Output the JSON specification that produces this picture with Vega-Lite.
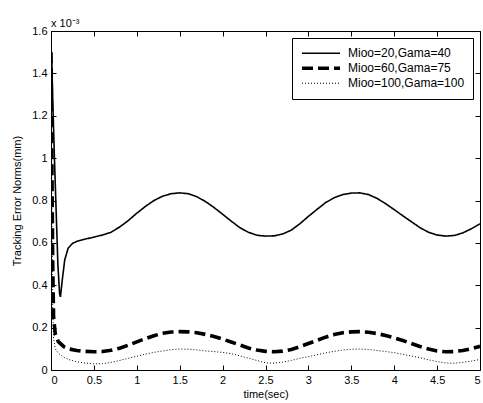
{
  "$schema": "https://vega.github.io/schema/vega-lite/v6.json",
  "width": 429,
  "height": 339,
  "autosize": {"type": "none"},
  "padding": {"left": 51, "top": 31, "right": 3, "bottom": 33},
  "background": "white",
  "title": {"text": "x 10⁻³", "anchor": "start", "frame": "group", "offset": -4, "fontSize": 11, "fontWeight": "normal", "font": "Liberation Sans", "color": "black"},
  "config": {
    "view": {"stroke": "black", "strokeWidth": 1},
    "font": "Liberation Sans",
    "axis": {"domain": false, "grid": false, "tickColor": "black", "tickSize": -5, "labelFont": "Liberation Sans", "labelFontSize": 11, "labelColor": "black", "titleFont": "Liberation Sans", "titleFontSize": 11, "titleFontWeight": "normal", "titleColor": "black"},
    "legend": {"orient": "top-right", "offset": 7, "strokeColor": "black", "fillColor": "white", "padding": 8, "symbolType": "stroke", "symbolSize": 1444, "symbolStrokeColor": "black", "labelFont": "Liberation Sans", "labelFontSize": 12, "labelColor": "black", "labelOffset": 6, "rowPadding": 0, "clipHeight": 14.5, "title": null, "cornerRadius": 0}
  },
  "data": {"values": [
    {"t":0,"v":1.52,"s":"Mioo=20,Gama=40"},{"t":0.01,"v":1.45,"s":"Mioo=20,Gama=40"},{"t":0.02,"v":1.28,"s":"Mioo=20,Gama=40"},{"t":0.04,"v":1.0,"s":"Mioo=20,Gama=40"},{"t":0.06,"v":0.75,"s":"Mioo=20,Gama=40"},{"t":0.08,"v":0.5,"s":"Mioo=20,Gama=40"},{"t":0.1,"v":0.36,"s":"Mioo=20,Gama=40"},{"t":0.11,"v":0.345,"s":"Mioo=20,Gama=40"},{"t":0.13,"v":0.42,"s":"Mioo=20,Gama=40"},{"t":0.16,"v":0.52,"s":"Mioo=20,Gama=40"},{"t":0.2,"v":0.575,"s":"Mioo=20,Gama=40"},{"t":0.25,"v":0.597,"s":"Mioo=20,Gama=40"},{"t":0.3,"v":0.607,"s":"Mioo=20,Gama=40"},{"t":0.4,"v":0.618,"s":"Mioo=20,Gama=40"},{"t":0.5,"v":0.627,"s":"Mioo=20,Gama=40"},{"t":0.6,"v":0.637,"s":"Mioo=20,Gama=40"},{"t":0.7,"v":0.65,"s":"Mioo=20,Gama=40"},{"t":0.8,"v":0.675,"s":"Mioo=20,Gama=40"},{"t":0.9,"v":0.705,"s":"Mioo=20,Gama=40"},{"t":1.0,"v":0.74,"s":"Mioo=20,Gama=40"},{"t":1.1,"v":0.772,"s":"Mioo=20,Gama=40"},{"t":1.2,"v":0.8,"s":"Mioo=20,Gama=40"},{"t":1.3,"v":0.82,"s":"Mioo=20,Gama=40"},{"t":1.4,"v":0.832,"s":"Mioo=20,Gama=40"},{"t":1.5,"v":0.836,"s":"Mioo=20,Gama=40"},{"t":1.6,"v":0.832,"s":"Mioo=20,Gama=40"},{"t":1.7,"v":0.818,"s":"Mioo=20,Gama=40"},{"t":1.8,"v":0.795,"s":"Mioo=20,Gama=40"},{"t":1.9,"v":0.767,"s":"Mioo=20,Gama=40"},{"t":2.0,"v":0.735,"s":"Mioo=20,Gama=40"},{"t":2.1,"v":0.703,"s":"Mioo=20,Gama=40"},{"t":2.2,"v":0.672,"s":"Mioo=20,Gama=40"},{"t":2.3,"v":0.65,"s":"Mioo=20,Gama=40"},{"t":2.4,"v":0.636,"s":"Mioo=20,Gama=40"},{"t":2.5,"v":0.632,"s":"Mioo=20,Gama=40"},{"t":2.6,"v":0.633,"s":"Mioo=20,Gama=40"},{"t":2.7,"v":0.642,"s":"Mioo=20,Gama=40"},{"t":2.8,"v":0.66,"s":"Mioo=20,Gama=40"},{"t":2.9,"v":0.69,"s":"Mioo=20,Gama=40"},{"t":3.0,"v":0.725,"s":"Mioo=20,Gama=40"},{"t":3.1,"v":0.758,"s":"Mioo=20,Gama=40"},{"t":3.2,"v":0.79,"s":"Mioo=20,Gama=40"},{"t":3.3,"v":0.813,"s":"Mioo=20,Gama=40"},{"t":3.4,"v":0.828,"s":"Mioo=20,Gama=40"},{"t":3.5,"v":0.835,"s":"Mioo=20,Gama=40"},{"t":3.6,"v":0.836,"s":"Mioo=20,Gama=40"},{"t":3.7,"v":0.828,"s":"Mioo=20,Gama=40"},{"t":3.8,"v":0.81,"s":"Mioo=20,Gama=40"},{"t":3.9,"v":0.785,"s":"Mioo=20,Gama=40"},{"t":4.0,"v":0.757,"s":"Mioo=20,Gama=40"},{"t":4.1,"v":0.728,"s":"Mioo=20,Gama=40"},{"t":4.2,"v":0.7,"s":"Mioo=20,Gama=40"},{"t":4.3,"v":0.672,"s":"Mioo=20,Gama=40"},{"t":4.4,"v":0.65,"s":"Mioo=20,Gama=40"},{"t":4.5,"v":0.637,"s":"Mioo=20,Gama=40"},{"t":4.6,"v":0.632,"s":"Mioo=20,Gama=40"},{"t":4.7,"v":0.635,"s":"Mioo=20,Gama=40"},{"t":4.8,"v":0.647,"s":"Mioo=20,Gama=40"},{"t":4.9,"v":0.667,"s":"Mioo=20,Gama=40"},{"t":5.0,"v":0.69,"s":"Mioo=20,Gama=40"},
    {"t":0,"v":1.5,"s":"Mioo=60,Gama=75"},{"t":0.01,"v":1.0,"s":"Mioo=60,Gama=75"},{"t":0.02,"v":0.5,"s":"Mioo=60,Gama=75"},{"t":0.03,"v":0.25,"s":"Mioo=60,Gama=75"},{"t":0.05,"v":0.17,"s":"Mioo=60,Gama=75"},{"t":0.085,"v":0.134,"s":"Mioo=60,Gama=75"},{"t":0.15,"v":0.11,"s":"Mioo=60,Gama=75"},{"t":0.2,"v":0.1,"s":"Mioo=60,Gama=75"},{"t":0.3,"v":0.092,"s":"Mioo=60,Gama=75"},{"t":0.4,"v":0.088,"s":"Mioo=60,Gama=75"},{"t":0.5,"v":0.086,"s":"Mioo=60,Gama=75"},{"t":0.6,"v":0.087,"s":"Mioo=60,Gama=75"},{"t":0.7,"v":0.093,"s":"Mioo=60,Gama=75"},{"t":0.8,"v":0.103,"s":"Mioo=60,Gama=75"},{"t":0.9,"v":0.117,"s":"Mioo=60,Gama=75"},{"t":1.0,"v":0.133,"s":"Mioo=60,Gama=75"},{"t":1.1,"v":0.148,"s":"Mioo=60,Gama=75"},{"t":1.2,"v":0.162,"s":"Mioo=60,Gama=75"},{"t":1.3,"v":0.173,"s":"Mioo=60,Gama=75"},{"t":1.4,"v":0.179,"s":"Mioo=60,Gama=75"},{"t":1.5,"v":0.181,"s":"Mioo=60,Gama=75"},{"t":1.6,"v":0.18,"s":"Mioo=60,Gama=75"},{"t":1.7,"v":0.176,"s":"Mioo=60,Gama=75"},{"t":1.8,"v":0.168,"s":"Mioo=60,Gama=75"},{"t":1.9,"v":0.158,"s":"Mioo=60,Gama=75"},{"t":2.0,"v":0.146,"s":"Mioo=60,Gama=75"},{"t":2.1,"v":0.132,"s":"Mioo=60,Gama=75"},{"t":2.2,"v":0.118,"s":"Mioo=60,Gama=75"},{"t":2.3,"v":0.104,"s":"Mioo=60,Gama=75"},{"t":2.4,"v":0.094,"s":"Mioo=60,Gama=75"},{"t":2.5,"v":0.088,"s":"Mioo=60,Gama=75"},{"t":2.6,"v":0.086,"s":"Mioo=60,Gama=75"},{"t":2.7,"v":0.089,"s":"Mioo=60,Gama=75"},{"t":2.8,"v":0.097,"s":"Mioo=60,Gama=75"},{"t":2.9,"v":0.11,"s":"Mioo=60,Gama=75"},{"t":3.0,"v":0.125,"s":"Mioo=60,Gama=75"},{"t":3.1,"v":0.14,"s":"Mioo=60,Gama=75"},{"t":3.2,"v":0.155,"s":"Mioo=60,Gama=75"},{"t":3.3,"v":0.167,"s":"Mioo=60,Gama=75"},{"t":3.4,"v":0.176,"s":"Mioo=60,Gama=75"},{"t":3.5,"v":0.18,"s":"Mioo=60,Gama=75"},{"t":3.6,"v":0.181,"s":"Mioo=60,Gama=75"},{"t":3.7,"v":0.178,"s":"Mioo=60,Gama=75"},{"t":3.8,"v":0.172,"s":"Mioo=60,Gama=75"},{"t":3.9,"v":0.163,"s":"Mioo=60,Gama=75"},{"t":4.0,"v":0.152,"s":"Mioo=60,Gama=75"},{"t":4.1,"v":0.139,"s":"Mioo=60,Gama=75"},{"t":4.2,"v":0.125,"s":"Mioo=60,Gama=75"},{"t":4.3,"v":0.111,"s":"Mioo=60,Gama=75"},{"t":4.4,"v":0.099,"s":"Mioo=60,Gama=75"},{"t":4.5,"v":0.09,"s":"Mioo=60,Gama=75"},{"t":4.6,"v":0.086,"s":"Mioo=60,Gama=75"},{"t":4.7,"v":0.087,"s":"Mioo=60,Gama=75"},{"t":4.8,"v":0.092,"s":"Mioo=60,Gama=75"},{"t":4.9,"v":0.101,"s":"Mioo=60,Gama=75"},{"t":5.0,"v":0.112,"s":"Mioo=60,Gama=75"},
    {"t":0,"v":1.5,"s":"Mioo=100,Gama=100"},{"t":0.01,"v":0.8,"s":"Mioo=100,Gama=100"},{"t":0.02,"v":0.3,"s":"Mioo=100,Gama=100"},{"t":0.03,"v":0.15,"s":"Mioo=100,Gama=100"},{"t":0.05,"v":0.1,"s":"Mioo=100,Gama=100"},{"t":0.085,"v":0.079,"s":"Mioo=100,Gama=100"},{"t":0.15,"v":0.06,"s":"Mioo=100,Gama=100"},{"t":0.2,"v":0.05,"s":"Mioo=100,Gama=100"},{"t":0.3,"v":0.039,"s":"Mioo=100,Gama=100"},{"t":0.4,"v":0.033,"s":"Mioo=100,Gama=100"},{"t":0.5,"v":0.029,"s":"Mioo=100,Gama=100"},{"t":0.6,"v":0.03,"s":"Mioo=100,Gama=100"},{"t":0.7,"v":0.036,"s":"Mioo=100,Gama=100"},{"t":0.8,"v":0.045,"s":"Mioo=100,Gama=100"},{"t":0.9,"v":0.055,"s":"Mioo=100,Gama=100"},{"t":1.0,"v":0.065,"s":"Mioo=100,Gama=100"},{"t":1.1,"v":0.075,"s":"Mioo=100,Gama=100"},{"t":1.2,"v":0.083,"s":"Mioo=100,Gama=100"},{"t":1.3,"v":0.09,"s":"Mioo=100,Gama=100"},{"t":1.4,"v":0.096,"s":"Mioo=100,Gama=100"},{"t":1.5,"v":0.099,"s":"Mioo=100,Gama=100"},{"t":1.6,"v":0.098,"s":"Mioo=100,Gama=100"},{"t":1.7,"v":0.095,"s":"Mioo=100,Gama=100"},{"t":1.8,"v":0.09,"s":"Mioo=100,Gama=100"},{"t":1.9,"v":0.087,"s":"Mioo=100,Gama=100"},{"t":2.0,"v":0.083,"s":"Mioo=100,Gama=100"},{"t":2.1,"v":0.077,"s":"Mioo=100,Gama=100"},{"t":2.2,"v":0.067,"s":"Mioo=100,Gama=100"},{"t":2.3,"v":0.056,"s":"Mioo=100,Gama=100"},{"t":2.4,"v":0.045,"s":"Mioo=100,Gama=100"},{"t":2.5,"v":0.034,"s":"Mioo=100,Gama=100"},{"t":2.6,"v":0.032,"s":"Mioo=100,Gama=100"},{"t":2.7,"v":0.037,"s":"Mioo=100,Gama=100"},{"t":2.8,"v":0.045,"s":"Mioo=100,Gama=100"},{"t":2.9,"v":0.055,"s":"Mioo=100,Gama=100"},{"t":3.0,"v":0.063,"s":"Mioo=100,Gama=100"},{"t":3.1,"v":0.072,"s":"Mioo=100,Gama=100"},{"t":3.2,"v":0.081,"s":"Mioo=100,Gama=100"},{"t":3.3,"v":0.088,"s":"Mioo=100,Gama=100"},{"t":3.4,"v":0.094,"s":"Mioo=100,Gama=100"},{"t":3.5,"v":0.098,"s":"Mioo=100,Gama=100"},{"t":3.6,"v":0.099,"s":"Mioo=100,Gama=100"},{"t":3.7,"v":0.097,"s":"Mioo=100,Gama=100"},{"t":3.8,"v":0.092,"s":"Mioo=100,Gama=100"},{"t":3.9,"v":0.087,"s":"Mioo=100,Gama=100"},{"t":4.0,"v":0.082,"s":"Mioo=100,Gama=100"},{"t":4.1,"v":0.074,"s":"Mioo=100,Gama=100"},{"t":4.2,"v":0.066,"s":"Mioo=100,Gama=100"},{"t":4.3,"v":0.058,"s":"Mioo=100,Gama=100"},{"t":4.4,"v":0.048,"s":"Mioo=100,Gama=100"},{"t":4.5,"v":0.04,"s":"Mioo=100,Gama=100"},{"t":4.6,"v":0.033,"s":"Mioo=100,Gama=100"},{"t":4.7,"v":0.032,"s":"Mioo=100,Gama=100"},{"t":4.8,"v":0.036,"s":"Mioo=100,Gama=100"},{"t":4.9,"v":0.042,"s":"Mioo=100,Gama=100"},{"t":5.0,"v":0.05,"s":"Mioo=100,Gama=100"}
  ]},
  "layer": [
    {
      "mark": {"type": "line", "color": "black", "clip": true},
      "encoding": {
        "x": {"field": "t", "type": "quantitative", "scale": {"domain": [0, 5], "nice": false}, "axis": {"title": "time(sec)", "values": [0,0.5,1,1.5,2,2.5,3,3.5,4,4.5,5], "format": "~g", "labelPadding": 9, "titlePadding": 3}},
        "y": {"field": "v", "type": "quantitative", "scale": {"domain": [0, 1.6], "nice": false}, "axis": {"title": "Tracking Error Norms(mm)", "values": [0,0.2,0.4,0.6,0.8,1,1.2,1.4,1.6], "format": "~g", "labelPadding": 9, "titlePadding": 9}},
        "strokeDash": {"field": "s", "type": "nominal", "scale": {"type": "ordinal", "domain": ["Mioo=20,Gama=40","Mioo=60,Gama=75","Mioo=100,Gama=100"], "range": [[1,0],[11,5],[1,2]]}},
        "strokeWidth": {"field": "s", "type": "nominal", "scale": {"type": "ordinal", "domain": ["Mioo=20,Gama=40","Mioo=60,Gama=75","Mioo=100,Gama=100"], "range": [1.6, 3.6, 1]}},
        "order": {"field": "t", "type": "quantitative"}
      }
    },
    {
      "mark": {"type": "line", "opacity": 0},
      "encoding": {
        "x": {"field": "t", "type": "quantitative", "axis": {"orient": "top", "labels": false, "title": null, "values": [0,0.5,1,1.5,2,2.5,3,3.5,4,4.5,5]}},
        "y": {"field": "v", "type": "quantitative", "axis": {"orient": "right", "labels": false, "title": null, "values": [0,0.2,0.4,0.6,0.8,1,1.2,1.4,1.6]}},
        "detail": {"field": "s"}
      }
    }
  ],
  "resolve": {"scale": {"x": "shared", "y": "shared"}, "axis": {"x": "independent", "y": "independent"}}
}
